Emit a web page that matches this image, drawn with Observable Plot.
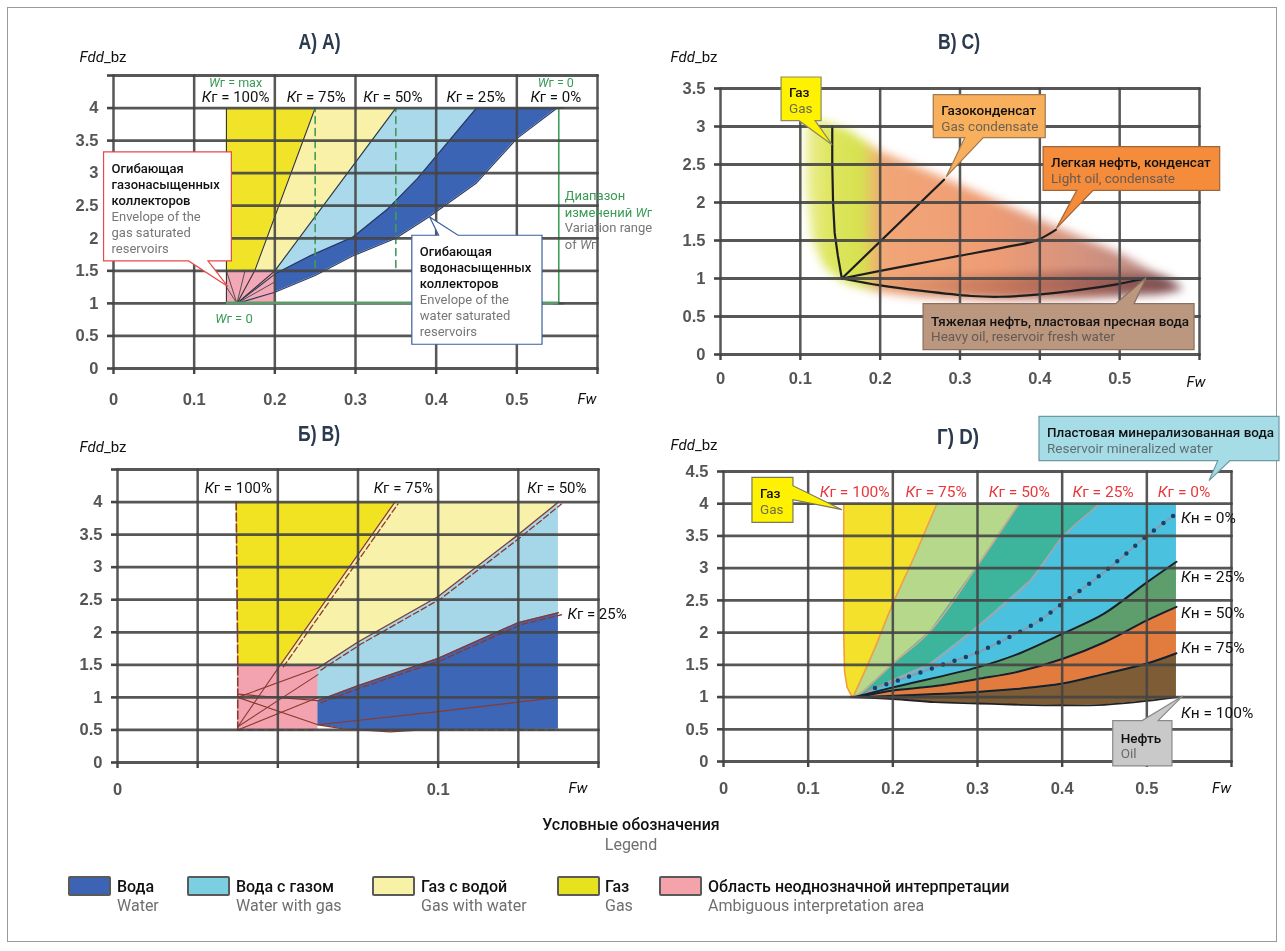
<!DOCTYPE html>
<html><head><meta charset="utf-8">
<script src="https://cdn.jsdelivr.net/npm/d3@7"></script>
<script src="https://cdn.jsdelivr.net/npm/@observablehq/plot@0.6"></script>
<style>
body{margin:0;background:#fff;}
#page{position:relative;width:1285px;height:951px;overflow:hidden;font-family:Roboto,"Noto Sans",sans-serif;background:#fff;}
#frame{position:absolute;left:7px;top:7px;width:1270px;height:935px;border:1px solid #9a9a9a;box-sizing:border-box;}
.panel{position:absolute;}
.panel svg{overflow:visible;}
.panel svg g[aria-label*="axis"] text{font-family:"Liberation Sans",Arial,sans-serif;font-weight:bold;font-size:16.5px;fill:#555;}
.annot text{font-family:Roboto,"Noto Sans",sans-serif;}
.annot text.ttl{font-family:"Liberation Sans",Arial,sans-serif;font-weight:bold;}
.leg{position:absolute;font-size:16px;white-space:nowrap;}
.sw{position:absolute;width:39px;height:16px;border:2px solid #5a5a5a;border-radius:2px;}
</style></head>
<body><div id="page"><div id="frame"></div></div>
<script>
// ================= DATA =================
const yTicks45 = [0,0.5,1,1.5,2,2.5,3,3.5,4,4.5];
const yLabels4 = ["0","0.5","1","1.5","2","2.5","3","3.5","4",""];
const yLabels45 = ["0","0.5","1","1.5","2","2.5","3","3.5","4","4.5"];
const yTicks35 = [0,0.5,1,1.5,2,2.5,3,3.5];
const yLabels35 = ["0","0.5","1","1.5","2","2.5","3","3.5"];
const xTicks06 = [0,0.1,0.2,0.3,0.4,0.5,0.6];
const xLabels06 = ["0","0.1","0.2","0.3","0.4","0.5",""];
const xTicksB = [0,0.025,0.05,0.075,0.1,0.125,0.15];
const xLabelsB = ["0","","","","0.1","",""];

// Panel A
const A_conv = [0.153, 1.0];
const A_kr100 = [[0.14,1.0],[0.14,4.0]];
const A_kr75 = [[0.153,1.0],[0.175,1.5],[0.25,4.0]];
const A_kr50 = [[0.153,1.0],[0.2,1.5],[0.35,4.0]];
const A_kr25 = [[0.153,1.0],[0.2,1.45],[0.244,1.73],[0.297,2.02],[0.34,2.45],[0.377,2.92],[0.45,4.0]];
const A_kr0 = [[0.153,1.0],[0.2,1.17],[0.25,1.43],[0.297,1.73],[0.35,2.0],[0.39,2.32],[0.45,2.85],[0.5,3.53],[0.55,4.0]];
const A_pink = [[0.14,1.0],[0.2,1.0],[0.2,1.5],[0.14,1.5]];
const A_yellow = [[0.14,1.5],[0.14,4.0],[0.25,4.0],[0.175,1.5]];
const A_lightYellow = [[0.175,1.5],[0.25,4.0],[0.35,4.0],[0.2,1.5]];
const A_fanEnds = [[0.14,1.5],[0.163,1.5],[0.2,1.33],[0.14,1.25]];
const A_dashX = [0.25, 0.35];
const A_dashY = [1.55, 4.0];
const A_range = [[0.552,1.0],[0.552,4.0]];
const A_rangeBase = [[0.14,1.0],[0.552,1.0]];
const A_krText = ["Кг = 100%","Кг = 75%","Кг = 50%","Кг = 25%","Кг = 0%"];
const A_krX = [0.152,0.252,0.347,0.45,0.549];
const A_krY = 4.16;

// Panel C (В) C))
const C_gas = [[0.14,3.0],[0.14,2.5],[0.141,2.0],[0.143,1.6],[0.147,1.3],[0.152,1.0]];
const C_cond = [[0.152,1.0],[0.28,2.3]];
const C_light = [[0.152,1.0],[0.2,1.1],[0.26,1.22],[0.3,1.3],[0.36,1.42],[0.4,1.52],[0.42,1.64]];
const C_heavy = [[0.152,1.0],[0.2,0.91],[0.25,0.84],[0.314,0.77],[0.35,0.76],[0.4,0.79],[0.45,0.85],[0.5,0.93],[0.534,1.0],[0.55,1.0]];
const C_envelope = [[0.107,3.0],[0.125,3.08],[0.16,2.95],[0.2,2.67],[0.3,2.23],[0.4,1.77],[0.5,1.33],[0.565,0.95],[0.58,0.86],[0.55,0.8],[0.45,0.74],[0.35,0.72],[0.25,0.76],[0.2,0.82],[0.16,0.92],[0.15,0.98],[0.13,1.15],[0.115,1.5],[0.107,2.2]];
const C_heavyBand = [[0.16,0.97],[0.3,1.02],[0.45,1.08],[0.56,1.02],[0.58,0.86],[0.55,0.8],[0.45,0.74],[0.35,0.72],[0.25,0.76],[0.2,0.82],[0.16,0.92]];

// Panel Б (B)
const B_left = [[0.037,4.0],[0.0372,3.0],[0.0375,1.5],[0.0375,0.5]];
const B_kr75 = [[0.0508,1.5],[0.0865,4.0]];
const B_kr50 = [[0.0625,1.45],[0.075,1.85],[0.1,2.55],[0.125,3.5],[0.1375,4.0]];
const B_kr25 = [[0.0625,0.95],[0.075,1.18],[0.1,1.6],[0.125,2.15],[0.1375,2.3]];
const B_bottom = [[0.0625,0.58],[0.07,0.52],[0.085,0.47],[0.095,0.5],[0.1,0.5]];
const B_inner = [[0.0625,0.58],[0.1,0.78],[0.1375,1.0]];
const B_pink = [[0.0375,0.5],[0.0625,0.5],[0.0625,1.5],[0.0375,1.5]];
const B_yellow = [[0.037,4.0],[0.0372,3.0],[0.0375,1.5],[0.0508,1.5],[0.0865,4.0]];
const B_rightX = 0.1375;
const B_fan = [
  [[0.0375,1.0],[0.0625,1.45]], [[0.0375,1.0],[0.0625,0.58]], [[0.0375,0.55],[0.0508,1.5]],
  [[0.0375,0.5],[0.0625,1.0]], [[0.0375,1.05],[0.0625,0.95]], [[0.0375,0.55],[0.0625,1.35]]
];
const B_krText = ["Кг = 100%","Кг = 75%","Кг = 50%"];
const B_krX = [0.0378,0.0893,0.1372];
const B_krY = 4.21;

// Panel Г (D)
const G_left = [[0.142,4.0],[0.142,2.0],[0.143,1.4],[0.146,1.15],[0.152,1.0]];
const G_kr75 = [[0.153,1.0],[0.1775,1.72],[0.2,2.45],[0.225,3.17],[0.252,4.0]];
const G_kr50 = [[0.155,1.0],[0.166,1.1],[0.2,1.52],[0.2445,2.03],[0.3,3.04],[0.349,4.0]];
const G_kr25 = [[0.16,1.0],[0.2,1.26],[0.2445,1.52],[0.3,2.09],[0.3626,2.81],[0.4,3.48],[0.445,4.0]];
const G_kn0 = [[0.17,1.1],[0.211,1.28],[0.256,1.49],[0.296,1.67],[0.333,1.9],[0.37,2.16],[0.4,2.45],[0.437,2.81],[0.469,3.15],[0.498,3.48],[0.532,3.82]];
const G_kn25 = [[0.155,1.0],[0.2,1.15],[0.3,1.46],[0.35,1.68],[0.4,1.98],[0.449,2.29],[0.5,2.78],[0.535,3.1]];
const G_kn50 = [[0.16,1.0],[0.2,1.1],[0.25,1.17],[0.3,1.28],[0.35,1.4],[0.4,1.59],[0.45,1.85],[0.5,2.19],[0.535,2.4]];
const G_kn75 = [[0.165,1.0],[0.2,1.02],[0.3,1.08],[0.35,1.13],[0.4,1.21],[0.45,1.36],[0.5,1.52],[0.535,1.68]];
const G_kn100 = [[0.15,1.0],[0.2,0.97],[0.25,0.92],[0.3,0.9],[0.35,0.88],[0.4,0.87],[0.45,0.88],[0.5,0.94],[0.535,1.0]];
const G_rightX = 0.535;
const G_krText = ["Кг = 100%","Кг = 75%","Кг = 50%","Кг = 25%","Кг = 0%"];
const G_krX = [0.1556,0.2518,0.35,0.449,0.5446];
const G_krY = 4.17;
const G_knText = ["Кн = 0%","Кн = 25%","Кн = 50%","Кн = 75%","Кн = 100%"];
const G_knY = [3.77,2.86,2.30,1.75,0.745];
const G_knX = 0.541;

// Legend
const legendRu = ["Вода","Вода с газом","Газ с водой","Газ","Область неоднозначной интерпретации"];
const legendEn = ["Water","Water with gas","Gas with water","Gas","Ambiguous interpretation area"];
const legendColors = ["#3d63b4","#7ccfe0","#f8f2a6","#e6e21e","#f4a3ab"];

// ================= HELPERS =================
const GRID = "#454545";
const rev = a => a.slice().reverse();
const idx = (arr, v) => arr.findIndex(t => Math.abs(t - v) < 1e-9);
function poly(pts, color){
  const [x0, y0] = pts[0];
  return Plot.area(pts, {x1: d=>d[0], y1: d=>d[1], x2: () => x0, y2: () => y0, fill: color, stroke: "none", mixBlendMode: "multiply"});
}
function ln(pts, stroke, w, o={}){ return Plot.line(pts, {x: d=>d[0], y: d=>d[1], stroke, strokeWidth: w, ...o}); }
function gridLines(xTicks, yTicks, xDom, yDom){
  const vx = xTicks.flatMap(t => [{x:t, y:yDom[0], k:"x"+t}, {x:t, y:yDom[1], k:"x"+t}]);
  const hy = yTicks.flatMap(t => [{x:xDom[0], y:t, k:"y"+t}, {x:xDom[1], y:t, k:"y"+t}]);
  return [
    Plot.line(vx, {x:"x", y:"y", z:"k", stroke: GRID, strokeOpacity: 0.9, strokeWidth: 2.5}),
    Plot.line(hy, {x:"x", y:"y", z:"k", stroke: GRID, strokeOpacity: 0.9, strokeWidth: 2.8})
  ];
}

function buildPanel(cfg){
  const axisText = {fontSize: 16.5, fontWeight: "bold", fontFamily: "Liberation Sans, Arial, sans-serif"};
  const svg = Plot.plot({
    width: cfg.width, height: cfg.height,
    marginLeft: cfg.mL, marginRight: cfg.mR, marginTop: cfg.mT, marginBottom: cfg.mB,
    x: {domain: cfg.xDomain}, y: {domain: cfg.yDomain},
    style: {background: "transparent", overflow: "visible"},
    marks: [
      ...cfg.fills,
      ...cfg.lines,
      ...gridLines(cfg.xTicks, cfg.yTicks, cfg.xDomain, cfg.yDomain),
      Plot.axisX({ticks: cfg.xTicks, tickSize: 6, tickPadding: cfg.xPad, label: null, color: GRID, strokeWidth: 2.4, ...axisText,
        tickFormat: d => cfg.xLabels[idx(cfg.xTicks, d)] ?? ""}),
      Plot.axisY({ticks: cfg.yTicks, tickSize: 6, tickPadding: 9, label: null, color: GRID, strokeWidth: 2.6, ...axisText,
        tickFormat: d => cfg.yLabels[idx(cfg.yTicks, d)] ?? ""})
    ]
  });
  d3.select(svg).selectAll('g[aria-label="area"]').style("mix-blend-mode", "multiply");
  const div = document.createElement("div");
  div.className = "panel";
  div.style.left = cfg.left + "px"; div.style.top = cfg.top + "px";
  div.appendChild(svg);
  document.getElementById("page").appendChild(div);
  const sx = d3.scaleLinear(cfg.xDomain, [cfg.mL, cfg.width - cfg.mR]);
  const sy = d3.scaleLinear(cfg.yDomain, [cfg.height - cfg.mB, cfg.mT]);
  const g = d3.select(svg).append("g").attr("class","annot").attr("text-anchor","start");
  const tt = g.append("text").attr("class","ttl").attr("x", cfg.title[1]).attr("y", cfg.title[2]).attr("text-anchor","middle")
    .attr("dominant-baseline","central").attr("font-size",22).attr("fill","#2b3a4f").text(cfg.title[0]);
  tt.attr("textLength", 42).attr("lengthAdjust","spacingAndGlyphs");
  const fy = g.append("text").attr("x", cfg.fdd[0]).attr("y", cfg.fdd[1]).attr("dominant-baseline","central")
    .attr("text-anchor","start").attr("font-size",15).attr("fill","#111");
  fy.append("tspan").attr("font-style","italic").text("Fdd"); fy.append("tspan").text("_bz");
  g.append("text").attr("x", cfg.fw[0]).attr("y", cfg.fw[1]).attr("text-anchor","middle").attr("dominant-baseline","central")
    .attr("font-size",15).attr("font-style","italic").attr("fill","#111").text("Fw");
  return {svg, g, sx, sy};
}

function label(g, x, y, text, o={}){
  const t = g.append("text").attr("x",x).attr("y",y).attr("text-anchor",o.anchor||"middle")
    .attr("dominant-baseline","central").attr("font-size",o.size||15).attr("fill",o.color||"#111")
    .attr("font-weight",o.weight||"normal");
  text.split(/([КW](?=[гн]))/).forEach((p,i)=>{ if(p) t.append("tspan").attr("font-style", i%2 ? "italic" : null).text(p); });
  if (o.maxW) {
    const L = t.node().getComputedTextLength();
    if (L > o.maxW) t.attr("textLength", o.maxW).attr("lengthAdjust","spacingAndGlyphs");
  }
  return t;
}

function callout(g, sx, sy, c){
  const tx = sx(c.tip[0]), ty = sy(c.tip[1]);
  const [dx,dy,w,h] = c.box;
  const x0 = tx+dx, y0 = ty+dy, x1 = x0+w, y1 = y0+h;
  const [b0,b1] = c.base;
  let pts;
  if (c.side==="bottom") pts=[[x0,y0],[x1,y0],[x1,y1],[x0+b1,y1],[tx,ty],[x0+b0,y1],[x0,y1]];
  else if (c.side==="top") pts=[[x0,y0],[x0+b0,y0],[tx,ty],[x0+b1,y0],[x1,y0],[x1,y1],[x0,y1]];
  else pts=[[x0,y0],[x1,y0],[x1,y0+b0],[tx,ty],[x1,y0+b1],[x1,y1],[x0,y1]];
  g.append("path").attr("d","M"+pts.map(p=>p.join(",")).join("L")+"Z")
    .attr("fill",c.fill).attr("stroke",c.stroke).attr("stroke-width",1.2);
  const pad = c.padX || 8;
  c.lines.forEach((t,i)=>{
    label(g, x0 + pad, y0 + c.first + i*c.lh, t,
      {anchor:"start", size:c.fs||13, color: i < c.nRu ? "#111" : c.en, weight: i < c.nRu ? 500 : "normal", maxW: w - pad - 5});
  });
}

// ================= PANEL A =================
(function(){
  const fills = [
    poly(A_pink, "#f3a8b8"),
    poly(A_yellow, "#f1e328"),
    poly(A_lightYellow, "#f9f1a8"),
    poly([[0.2,1.5],[0.35,4.0],[0.45,4.0],...rev(A_kr25.slice(1))], "#a9d9ea"),
    poly([...A_kr25.slice(1),[0.55,4.0],...rev(A_kr0.slice(1))], "#3c64b5")
  ];
  const lines = [
    ...A_fanEnds.map(e => ln([A_conv, e], "#444", 0.9)),
    ln(A_kr100, "#333", 1.1), ln(A_kr75, "#333", 1.1), ln(A_kr50, "#333", 1.1),
    ln(A_kr25, "#2a3a60", 1.1), ln(A_kr0, "#2a3a60", 1.1),
    ...A_dashX.map(x => ln(A_dashY.map(y => [x,y]), "#3f9d5a", 1.6, {strokeDasharray:"7,5"})),
    ln(A_range, "#3f9d5a", 1.6),
    ln([[0.546,1.0],[0.558,1.0]], "#3f9d5a", 2), ln([[0.546,4.0],[0.558,4.0]], "#3f9d5a", 2)
  ];
  const {g, sx, sy} = buildPanel({left:30, top:20, width:610, height:400, mL:83, mR:43, mT:55, mB:52,
    xDomain:[0,0.6], yDomain:[0,4.5], xTicks:xTicks06, xLabels:xLabels06, yTicks:yTicks45, yLabels:yLabels4,
    xPad:19, fills, lines, title:["А) A)",289.6,21.7], fdd:[49.6,37], fw:[557,379]});
  g.append("line").attr("x1", sx(A_rangeBase[0][0])).attr("x2", sx(A_rangeBase[1][0]))
    .attr("y1", sy(A_rangeBase[0][1])).attr("y2", sy(A_rangeBase[1][1])).attr("stroke","#5f9a6c").attr("stroke-width",2.6);
  A_krText.forEach((t,i)=>label(g, sx(A_krX[i]), sy(A_krY), t, {size:15}));
  label(g, sx(0.152), sy(4.39), "Wг = max", {size:12.5, color:"#3a9a55"});
  label(g, sx(0.549), sy(4.39), "Wг = 0", {size:12.5, color:"#3a9a55"});
  label(g, sx(0.150), sy(0.77), "Wг = 0", {size:13, color:"#3a9a55"});
  [["Диапазон",2.66,"#3a9a55"],["изменений Wг",2.40,"#3a9a55"],["Variation range",2.17,"#777"],["of Wг",1.90,"#777"]]
    .forEach(([t,y,c]) => label(g, sx(0.56), sy(y), t, {anchor:"start", size:13, color:c}));
  callout(g, sx, sy, {tip:[0.1424,1.25], box:[-124.3,-134.7,127.8,109], side:"bottom", base:[85,104.4],
    fill:"#fff", stroke:"#e84848", first:16, lh:16, nRu:3, en:"#777",
    lines:["Огибающая","газонасыщенных","коллекторов","Envelope of the","gas saturated","reservoirs"]});
  callout(g, sx, sy, {tip:[0.3925,2.32], box:[-17.8,18.3,130.2,109], side:"top", base:[26.8,46.2],
    fill:"#fff", stroke:"#3a5fa0", first:16, lh:16, nRu:3, en:"#777",
    lines:["Огибающая","водонасыщенных","коллекторов","Envelope of the","water saturated","reservoirs"]});
})();

// ================= PANEL C =================
(function(){
  const ENV = "#f0a071", BAND = "#a07879";
  const fills = [ poly(C_envelope, ENV), poly(C_heavyBand, BAND) ];
  const lines = [
    ln(C_gas, "#1e1e1e", 2.2), ln(C_cond, "#1e1e1e", 2.2),
    ln(C_light, "#1e1e1e", 2.2, {curve:"monotone-x"}), ln(C_heavy, "#1e1e1e", 2.2, {curve:"catmull-rom"})
  ];
  const {svg, g, sx, sy} = buildPanel({left:640, top:20, width:640, height:400, mL:80, mR:81, mT:68, mB:66,
    xDomain:[0,0.6], yDomain:[0,3.5], xTicks:xTicks06, xLabels:xLabels06, yTicks:yTicks35, yLabels:yLabels35,
    xPad:12, fills, lines, title:["В) C)",319,21.7], fdd:[30.6,37], fw:[556,361.7]});
  const defs = d3.select(svg).insert("defs", ":first-child");
  const gr = defs.append("linearGradient").attr("id","gradC").attr("gradientUnits","userSpaceOnUse")
    .attr("x1", sx(0.1)).attr("x2", sx(0.58)).attr("y1",0).attr("y2",0);
  [[0,"#f2f2b0"],[0.07,"#dfe662"],[0.16,"#d6e24e"],[0.215,"#f2a677"],[0.5,"#ee9c74"],[0.74,"#d4927f"],[1,"#a88282"]]
    .forEach(([o,c]) => gr.append("stop").attr("offset",o).attr("stop-color",c));
  const gb = defs.append("linearGradient").attr("id","gradCb").attr("gradientUnits","userSpaceOnUse")
    .attr("x1", sx(0.16)).attr("x2", sx(0.56)).attr("y1",0).attr("y2",0);
  [[0,0],[0.4,0.35],[1,0.75]].forEach(([o,a]) => gb.append("stop").attr("offset",o).attr("stop-color","#9a7078").attr("stop-opacity",a));
  defs.append("filter").attr("id","blurC").attr("x","-20%").attr("y","-20%").attr("width","140%").attr("height","140%")
    .append("feGaussianBlur").attr("stdDeviation",5);
  const fix = (col, url) => d3.select(svg).selectAll("[fill]").filter(function(){ return (this.getAttribute("fill")||"").toLowerCase() === col; })
    .attr("fill", url).attr("filter","url(#blurC)");
  fix(ENV, "url(#gradC)"); fix(BAND, "url(#gradCb)");
  callout(g, sx, sy, {tip:[0.1404,2.754], box:[-51,-67.7,40,43.7], side:"bottom", base:[18,34],
    fill:"#fff200", stroke:"#8a8a60", first:15.5, lh:15.7, nRu:1, en:"#6d6d50", fs:13.5, lines:["Газ","Gas"]});
  callout(g, sx, sy, {tip:[0.2834,2.333], box:[-13,-82,112,43], side:"bottom", base:[31.5,50],
    fill:"#f9b05c", stroke:"#a07a50", first:15.5, lh:15.7, nRu:1, en:"#6e6255", fs:13.5, lines:["Газоконденсат","Gas condensate"]});
  callout(g, sx, sy, {tip:[0.421,1.649], box:[-13,-82,176.6,43.7], side:"bottom", base:[33.7,50],
    fill:"#f48c3c", stroke:"#a06438", first:15.5, lh:15.7, nRu:1, en:"#6b5a50", fs:13.5, lines:["Легкая нефть, конденсат","Light oil, condensate"]});
  callout(g, sx, sy, {tip:[0.5337,1.004], box:[-223,26,271,46], side:"top", base:[192.6,211],
    fill:"#bb977f", stroke:"#8a7060", first:17, lh:15.7, nRu:1, en:"#665a54", fs:13.5, lines:["Тяжелая нефть, пластовая пресная вода","Heavy oil, reservoir fresh water"]});
})();

// ================= PANEL Б =================
(function(){
  const RED = "#8a3a2e";
  const fills = [
    poly(B_pink, "#f3a3b0"),
    poly(B_yellow, "#f1e222"),
    poly([[0.0508,1.5],[0.0865,4.0],[0.1375,4.0],...rev(B_kr50),[0.0625,1.5]], "#f8f1aa"),
    poly([...B_kr50,[B_rightX,4.0],...rev(B_kr25)], "#a6d7e8"),
    poly([...B_kr25,[B_rightX,0.51],...rev(B_bottom)], "#3e66b7")
  ];
  const dbl = (pts) => [ln(pts, RED, 1.3), ln(pts, RED, 1.3, {strokeDasharray:"6,3", dx:3, dy:2})];
  const lines = [
    ...B_fan.map(p => ln(p, RED, 1.1)),
    ln(B_left, RED, 1.6, {strokeDasharray:"8,3"}),
    ...dbl(B_kr75), ...dbl(B_kr50), ...dbl(B_kr25),
    ln(B_inner, RED, 1.2), ln(B_bottom, RED, 1.3),
    ln([[0.1,0.5],[0.1375,0.5]], RED, 1.5, {strokeDasharray:"6,4"}),
    ln([[0.0375,0.5],[0.0625,0.5]], RED, 1.5, {strokeDasharray:"6,4"})
  ];
  const {g, sx, sy} = buildPanel({left:30, top:410, width:610, height:400, mL:87, mR:42, mT:59, mB:48,
    xDomain:[0,0.15], yDomain:[0,4.5], xTicks:xTicksB, xLabels:xLabelsB, yTicks:yTicks45, yLabels:yLabels4,
    xPad:15, fills, lines, title:["Б) B)",289,23], fdd:[49.6,36.7], fw:[548,378]});
  B_krText.forEach((t,i)=>label(g, sx(B_krX[i]), sy(B_krY), t, {size:15}));
  label(g, sx(0.1405), sy(2.28), "Кг = 25%", {size:15, anchor:"start"});
})();

// ================= PANEL Г =================
(function(){
  const fills = [
    poly([...G_left, ...G_kr75], "#f4e12c"),
    poly([...G_kr75, ...rev(G_kr50)], "#b6d88b"),
    poly([...G_kr50, ...rev(G_kr25)], "#3db49c"),
    poly([...G_kr25, [G_rightX,4.0], ...rev(G_kn25)], "#4ac2df"),
    poly([...G_kn25, ...rev(G_kn50)], "#5d9e6c"),
    poly([...G_kn50, ...rev(G_kn75)], "#e27b3e"),
    poly([...G_kn75, ...rev(G_kn100)], "#7e5c35")
  ];
  const lines = [
    ln(G_left, "#f0a040", 1.6), ln(G_kr75, "#f0a040", 1.6, {curve:"catmull-rom"}),
    ln(G_kr50, "#d2a890", 1.6, {curve:"catmull-rom"}), ln(G_kr25, "#a8a2aa", 1.6, {curve:"catmull-rom"}),
    ln(G_kn0, "#8a9aa8", 2, {curve:"catmull-rom", strokeDasharray:"5,7"}),
    ln(G_kn0, "#1f3f6a", 4.5, {curve:"catmull-rom", strokeDasharray:"0,12", strokeLinecap:"round", strokeDashoffset:-8}),
    ln(G_kn25, "#14202c", 2, {curve:"catmull-rom"}), ln(G_kn50, "#14202c", 2, {curve:"catmull-rom"}),
    ln(G_kn75, "#14202c", 2, {curve:"catmull-rom"}), ln(G_kn100, "#222", 1.8, {curve:"catmull-rom"})
  ];
  const {g, sx, sy} = buildPanel({left:640, top:405, width:645, height:405, mL:83, mR:54, mT:66, mB:49,
    xDomain:[0,0.6], yDomain:[0,4.5], xTicks:xTicks06, xLabels:xLabels06, yTicks:yTicks45, yLabels:yLabels45,
    xPad:15, fills, lines, title:["Г) D)",318,31.7], fdd:[30.6,40], fw:[581.6,383]});
  G_krText.forEach((t,i)=>label(g, sx(G_krX[i]), sy(G_krY), t, {size:15.5, color:"#e8383c"}));
  G_knText.forEach((t,i)=>label(g, sx(G_knX), sy(G_knY[i]), t, {size:15.5, anchor:"start"}));
  callout(g, sx, sy, {tip:[0.1405,3.9], box:[-90,-32.3,41,45], side:"right", base:[8.3,22.3],
    fill:"#fff200", stroke:"#7a7a5a", first:15.5, lh:15.7, nRu:1, en:"#6d6d50", fs:13.5, lines:["Газ","Gas"]});
  callout(g, sx, sy, {tip:[0.574,4.35], box:[-170,-64.3,240,44.3], side:"bottom", base:[178.8,191],
    fill:"#a6dce6", stroke:"#6a9aa2", first:16, lh:15.7, nRu:1, en:"#5f6f72", fs:13.5,
    lines:["Пластовая минерализованная вода","Reservoir mineralized water"]});
  callout(g, sx, sy, {tip:[0.543,1.01], box:[-70,24.7,59.2,45.3], side:"top", base:[29.4,45.4],
    fill:"#c9c9c9", stroke:"#8a8a8a", first:17, lh:15.7, nRu:1, en:"#6a6a6a", fs:13.5, lines:["Нефть","Oil"]});
})();

// ================= LEGEND =================
(function(){
  const page = document.getElementById("page");
  const add = (txt, css) => { const d = document.createElement("div"); d.className = "leg"; Object.assign(d.style, css); d.textContent = txt; page.appendChild(d); return d; };
  add("Условные обозначения", {left:"531px", width:"200px", textAlign:"center", top:"815px", color:"#111", fontWeight:"500"});
  add("Legend", {left:"531px", width:"200px", textAlign:"center", top:"835px", color:"#6f6f6f"});
  const swX = [68,187,372,557,659];
  const txX = [117,236,421,605,708];
  legendRu.forEach((t,i) => {
    const s = document.createElement("div"); s.className = "sw";
    s.style.left = swX[i] + "px"; s.style.top = "876px"; s.style.background = legendColors[i];
    page.appendChild(s);
    add(t, {left: txX[i]+"px", top:"877px", color:"#111", fontWeight:"500"});
    add(legendEn[i], {left: txX[i]+"px", top:"896px", color:"#6f6f6f"});
  });
})();
</script>
</body></html>
